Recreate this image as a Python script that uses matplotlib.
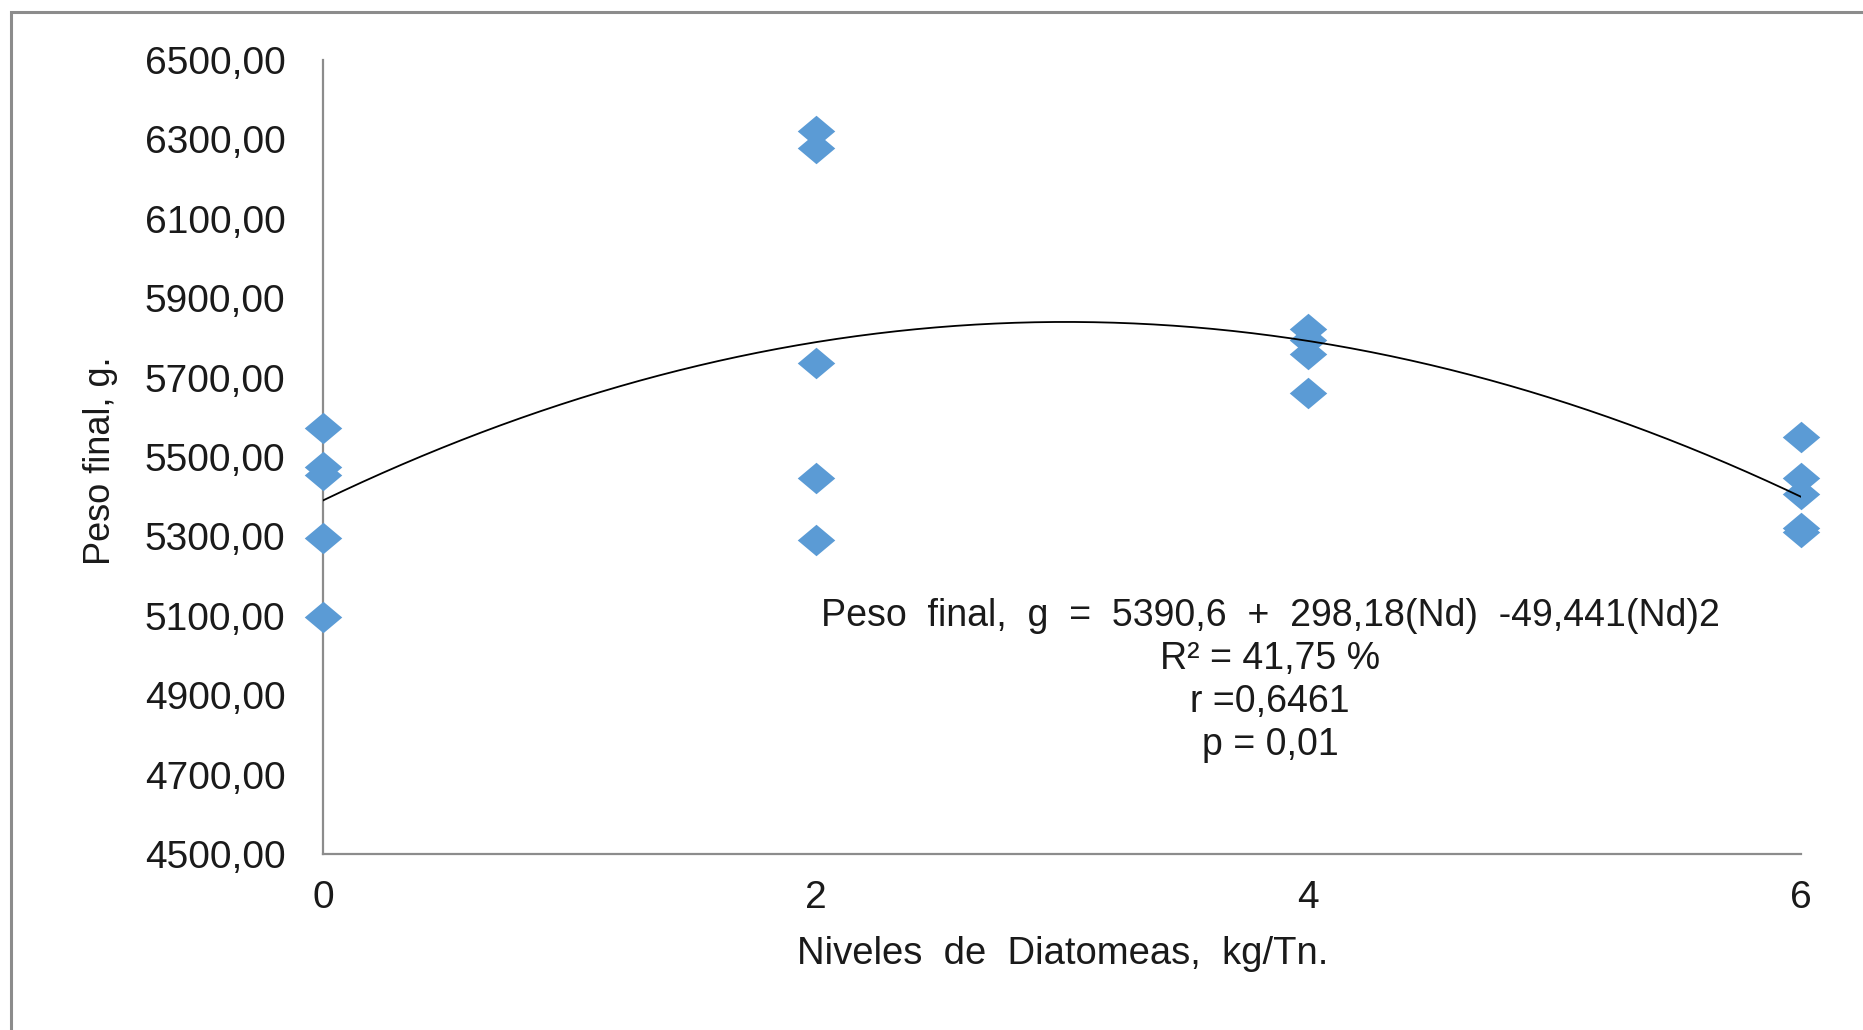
import matplotlib
matplotlib.use("Agg")
import matplotlib.pyplot as plt
import numpy as np
from matplotlib.patches import Rectangle

plt.rcParams['font.family'] = ['Liberation Sans', 'DejaVu Sans']

# Data
niveles_0 = [5572, 5474, 5455, 5295, 5098]
niveles_2 = [6320, 6278, 5736, 5448, 5291]
niveles_4 = [5822, 5795, 5759, 5660]
niveles_6 = [5550, 5448, 5407, 5322, 5310]
x_levels = [0, 2, 4, 6]
y_groups = [niveles_0, niveles_2, niveles_4, niveles_6]

# Trendline coefficients as printed in chart
coef_a, coef_b, coef_c = 5390.6, 298.18, -49.441

x_ticks = [0, 2, 4, 6]
y_ticks = [4500, 4700, 4900, 5100, 5300, 5500, 5700, 5900, 6100, 6300, 6500]

eq_lines = ["Peso  final,  g  =  5390,6  +  298,18(Nd)  -49,441(Nd)2",
            "R² = 41,75 %",
            "r =0,6461",
            "p = 0,01"]

W, H = 1863, 1030
fig = plt.figure(figsize=(W / 100, H / 100), dpi=100)
ax = fig.add_axes([323 / W, 1 - 854 / H, (1801 - 323) / W, (854 - 60) / H])

# outer frame
fig.patches.append(Rectangle((11 / W, -0.05), 1.2, 1 - 12 / H + 0.05,
                             transform=fig.transFigure, fill=False,
                             edgecolor='#8c8c8c', linewidth=2.2))

diamond = [(-1, 0), (0, 0.84), (1, 0), (0, -0.84), (-1, 0)]
text_color = '#1a1a1a'

for xl, ys in zip(x_levels, y_groups):
    ax.plot([xl] * len(ys), ys, linestyle='none', marker=diamond,
            markersize=27, color='#5b9bd5', markeredgewidth=0, zorder=3,
            clip_on=False)

xs = np.linspace(0, 6, 300)
ax.plot(xs, coef_a + coef_b * xs + coef_c * xs ** 2, color='black',
        linewidth=1.3, zorder=4)

ax.set_xlim(0, 6)
ax.set_ylim(4500, 6500)
ax.set_xticks(x_ticks)
ax.set_xticklabels([str(t) for t in x_ticks])
ax.set_yticks(y_ticks)
ax.set_yticklabels([f"{t},00" for t in y_ticks])
ax.tick_params(axis='both', length=0, labelsize=28, colors=text_color)
ax.tick_params(axis='y', pad=27)
ax.tick_params(axis='x', pad=19)

for s in ['top', 'right']:
    ax.spines[s].set_visible(False)
for s in ['left', 'bottom']:
    ax.spines[s].set_color('#8c8c8c')
    ax.spines[s].set_linewidth(1.6)

fig.text(100 / W, 1 - 461 / H, "Peso final, g.", rotation=90, ha='center',
         va='center', fontsize=26, color=text_color)
fig.text(1063 / W, 1 - 954 / H, "Niveles  de  Diatomeas,  kg/Tn.", ha='center',
         va='center', fontsize=27.5, color=text_color)

line_y = [616, 659, 702, 745]
for txt, yy in zip(eq_lines, line_y):
    fig.text(1270 / W, 1 - yy / H, txt, ha='center', va='center',
             fontsize=27, color=text_color)

fig.savefig("out.png", dpi=100, facecolor='white')
